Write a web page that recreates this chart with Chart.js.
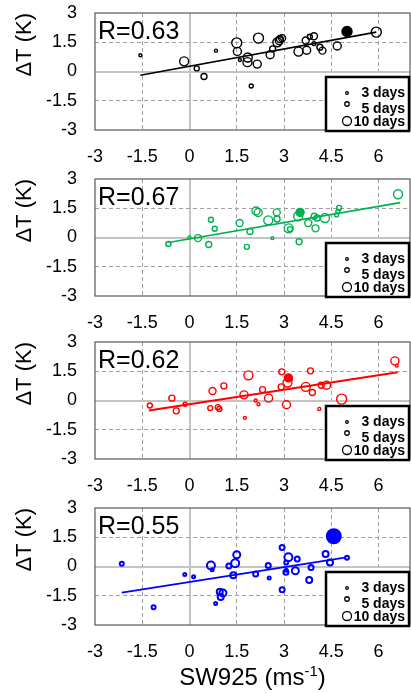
<!DOCTYPE html>
<html>
<head>
<meta charset="utf-8">
<script src="https://cdn.jsdelivr.net/npm/chart.js@4.4.1/dist/chart.umd.min.js"></script>
<style>
  html, body { margin: 0; padding: 0; background: #fff; }
  body { width: 411px; height: 693px; position: relative; overflow: hidden; }
  canvas { position: absolute; left: 0; }
</style>
</head>
<body>
<canvas id="c1" width="411" height="166" style="top:0px"></canvas>
<canvas id="c2" width="411" height="163" style="top:166px"></canvas>
<canvas id="c3" width="411" height="166" style="top:329px"></canvas>
<canvas id="c4" width="411" height="198" style="top:495px"></canvas>
<script>
// ---- ticks / labels ----
const xTicks = [-3, -1.5, 0, 1.5, 3, 4.5, 6];
const yTicks = [-3, -1.5, 0, 1.5, 3];
const legendDays = [3, 5, 10];
const rValues = ['0.63', '0.67', '0.62', '0.55'];

// ---- panel 1 (black) ----
const x1 = [-1.56, -0.17, 0.23, 0.46, 0.84, 1.50, 1.52, 1.60, 1.85, 1.84, 2.15, 1.96, 2.19, 2.56, 2.64, 2.79, 2.85, 2.87, 2.94, 3.46, 3.69, 3.72, 3.82, 3.95, 3.95, 4.14, 4.22, 4.69, 5.00, 5.93];
const y1 = [0.83, 0.52, 0.16, -0.26, 1.07, 1.47, 1.03, 0.59, 0.72, 0.48, 0.38, -0.74, 1.71, 0.86, 1.16, 1.50, 1.58, 1.67, 1.71, 1.02, 1.59, 1.09, 1.78, 1.81, 1.43, 1.24, 1.07, 1.31, 2.05, 2.02];
const d1 = [3, 9, 5, 6, 3, 10, 8, 3, 9, 9, 8, 4, 10, 8, 6, 9, 8, 7, 7, 9, 7, 8, 5, 7, 4, 6, 7, 8, 10, 10];
const fitX1 = [-1.56, 5.93];
const fitY1 = [-0.19, 2.02];
const solid1 = 28;

// ---- panel 2 (green) ----
const x2 = [-0.67, 0.00, 0.27, 0.61, 0.68, 0.80, 1.59, 1.82, 1.92, 2.11, 2.18, 2.50, 2.63, 2.77, 2.78, 3.15, 3.19, 3.45, 3.51, 3.48, 3.77, 3.96, 4.05, 4.00, 4.30, 4.67, 4.71, 4.75, 6.62];
const y2 = [-0.33, 0.00, -0.03, -0.36, 0.91, 0.45, 0.74, -0.48, 0.31, 1.36, 1.28, 0.88, -0.03, 1.29, 0.95, 0.47, 0.43, 1.09, 1.29, -0.22, 0.74, 1.09, 1.00, 0.47, 1.00, 1.16, 1.33, 1.52, 2.22];
const d2 = [5, 3, 7, 6, 5, 5, 7, 5, 6, 8, 8, 9, 3, 7, 6, 9, 5, 9, 8, 6, 7, 6, 6, 7, 9, 4, 4, 5, 9];
const fitX2 = [-0.67, 6.69];
const fitY2 = [-0.26, 1.79];
const solid2 = 18;

// ---- panel 3 (red) ----
const x3 = [-1.26, -0.56, -0.42, -0.14, 0.66, 0.73, 0.90, 0.95, 1.09, 1.73, 1.76, 1.87, 2.10, 2.19, 2.32, 2.51, 2.91, 2.93, 3.08, 3.11, 3.14, 3.20, 3.69, 3.84, 3.90, 4.12, 4.18, 4.35, 4.83, 6.52, 6.58];
const y3 = [-0.26, 0.12, -0.53, -0.19, -0.39, 0.49, -0.34, -0.43, 0.75, 0.29, -0.89, 1.29, 0.00, -0.19, 0.56, 0.12, 0.70, 1.47, -0.22, 0.92, 1.16, 1.11, 0.70, 1.52, 0.41, -0.43, 0.78, 0.78, 0.07, 2.03, 1.79];
const d3 = [5, 6, 6, 4, 5, 7, 5, 5, 6, 8, 3, 9, 3, 3, 6, 8, 6, 6, 8, 9, 8, 4, 9, 6, 6, 3, 6, 8, 10, 8, 3];
const fitX3 = [-1.29, 6.61];
const fitY3 = [-0.51, 1.45];
const solid3 = 20;

// ---- panel 4 (blue) ----
const x4 = [-2.15, -1.14, -0.15, 0.13, 0.68, 0.72, 0.83, 0.96, 1.06, 0.99, 1.25, 1.39, 1.45, 1.50, 2.10, 2.50, 2.53, 2.94, 2.94, 3.06, 3.07, 3.07, 3.14, 3.36, 3.42, 3.80, 3.86, 4.32, 4.46, 4.58, 5.00];
const y4 = [0.14, -2.09, -0.41, -0.53, 0.05, -0.17, -1.90, -1.29, -1.36, -1.57, 0.02, -0.45, 0.17, 0.60, -0.38, 0.05, -0.59, 0.98, -1.19, -0.29, 0.21, -0.19, 0.47, -0.22, 0.38, -0.69, -0.05, 0.64, 0.21, 1.55, 0.45];
const d4 = [4, 4, 3, 3, 8, 3, 3, 6, 7, 6, 5, 6, 8, 7, 5, 5, 3, 5, 5, 5, 4, 3, 8, 7, 5, 6, 5, 6, 6, 14, 4];
const fitX4 = [-2.15, 4.98];
const fitY4 = [-1.34, 0.47];
const solid4 = 29;

const FONT = "'Liberation Sans', Arial, sans-serif";
const radiusFor = (days) => days * 0.5;

// frame, R label, size legend and (last panel) x title
const panelDeco = {
  id: 'panelDeco',
  afterDraw(chart, args, o) {
    const ctx = chart.ctx;
    const a = chart.chartArea;
    ctx.save();

    ctx.strokeStyle = '#595959';
    ctx.lineWidth = 1.2;
    ctx.strokeRect(a.left, a.top, a.right - a.left, a.bottom - a.top);

    ctx.fillStyle = '#000';
    ctx.font = '25px ' + FONT;
    ctx.textAlign = 'left';
    ctx.textBaseline = 'alphabetic';
    ctx.fillText('R=' + o.r, a.left + 3, a.top + 26);

    // legend box
    const bx = a.right - 84, by = a.top + 64, bw = 83, bh = a.bottom - by + 1;
    ctx.fillStyle = '#fff';
    ctx.fillRect(bx, by, bw, bh);
    ctx.strokeStyle = '#000';
    ctx.lineWidth = 2.5;
    ctx.strokeRect(bx, by, bw, bh);

    const markY = [16, 27, 44];
    const textY = [20, 36, 49];
    ctx.font = 'bold 14px ' + FONT;
    ctx.textAlign = 'right';
    legendDays.forEach((d, i) => {
      ctx.beginPath();
      ctx.lineWidth = 1.3;
      ctx.strokeStyle = '#000';
      ctx.arc(bx + 21, by + markY[i], radiusFor(d) * 0.9, 0, Math.PI * 2);
      ctx.stroke();
      ctx.fillStyle = '#000';
      ctx.fillText(d + ' days', bx + bw - 4, by + textY[i]);
    });

    if (o.xTitle) {
      const main = 'SW925 (ms', sup = '-1', close = ')';
      ctx.font = '24px ' + FONT;
      const w1 = ctx.measureText(main).width;
      const w3 = ctx.measureText(close).width;
      ctx.font = '15px ' + FONT;
      const w2 = ctx.measureText(sup).width;
      let x = (a.left + a.right) / 2 - (w1 + w2 + w3) / 2;
      const yb = a.bottom + 60;
      ctx.textAlign = 'left';
      ctx.fillStyle = '#000';
      ctx.font = '24px ' + FONT;
      ctx.fillText(main, x, yb);
      x += w1;
      ctx.font = '15px ' + FONT;
      ctx.fillText(sup, x, yb - 9);
      x += w2;
      ctx.font = '24px ' + FONT;
      ctx.fillText(close, x, yb);
    }
    ctx.restore();
  }
};

function tickVal(ctx) {
  return ctx.tick ? ctx.tick.value : null;
}

function makePanel(id, xs, ys, days, fitX, fitY, solidIdx, color, r, axisH, lastPanel) {
  const pts = xs.map((v, i) => ({ x: v, y: ys[i] }));
  const fit = fitX.map((v, i) => ({ x: v, y: fitY[i] }));
  const thick = color === '#0000ff' ? 2 : 1.4;

  return new Chart(document.getElementById(id), {
    type: 'scatter',
    data: {
      datasets: [{
        type: 'line',
        data: fit,
        borderColor: color,
        borderWidth: color === '#ff0000' ? 2 : 1.6,
        pointRadius: 0,
        fill: false
      }, {
        data: pts,
        pointRadius: (c) => radiusFor(days[c.dataIndex]),
        pointBorderColor: color,
        pointBorderWidth: thick,
        pointBackgroundColor: (c) => c.dataIndex === solidIdx ? color : 'rgba(255,255,255,0)'
      }]
    },
    options: {
      responsive: false,
      animation: false,
      events: [],
      layout: { autoPadding: false, padding: { top: 13, right: 1, left: 0, bottom: 0 } },
      plugins: {
        legend: { display: false },
        tooltip: { enabled: false },
        panelDeco: { r: r, xTitle: lastPanel }
      },
      scales: {
        x: {
          type: 'linear',
          min: -3,
          max: 7,
          afterBuildTicks: (s) => { s.ticks = xTicks.map(v => ({ value: v })); },
          afterFit: (s) => { s.height = axisH; s.paddingLeft = 0; s.paddingRight = 0; },
          ticks: {
            autoSkip: false,
            maxRotation: 0,
            padding: 16,
            color: '#000',
            font: { family: FONT, size: 18 }
          },
          grid: {
            drawTicks: false,
            color: (c) => tickVal(c) === -3 ? 'rgba(0,0,0,0)' : (tickVal(c) === 0 ? '#c4c4c4' : '#a0a0a0'),
            lineWidth: (c) => tickVal(c) === 0 ? 2 : 1
          },
          border: {
            display: false,
            dash: (c) => tickVal(c) === 0 ? [] : [4, 3]
          }
        },
        y: {
          min: -3,
          max: 3,
          afterBuildTicks: (s) => { s.ticks = yTicks.map(v => ({ value: v })); },
          afterFit: (s) => { s.width = 95; s.paddingTop = 0; s.paddingBottom = 0; },
          ticks: {
            padding: 18,
            color: '#000',
            font: { family: FONT, size: 18 }
          },
          title: {
            display: true,
            text: 'ΔT (K)',
            align: 'end',
            color: '#000',
            padding: { top: 12, bottom: 0 },
            font: { family: FONT, size: 22 }
          },
          grid: {
            drawTicks: false,
            color: (c) => (tickVal(c) === 3 || tickVal(c) === -3) ? 'rgba(0,0,0,0)' : (tickVal(c) === 0 ? '#c4c4c4' : '#a0a0a0'),
            lineWidth: (c) => tickVal(c) === 0 ? 2 : 1
          },
          border: {
            display: false,
            dash: (c) => tickVal(c) === 0 ? [] : [4, 3]
          }
        }
      }
    },
    plugins: [panelDeco]
  });
}

makePanel('c1', x1, y1, d1, fitX1, fitY1, solid1, '#000000', rValues[0], 36, false);
makePanel('c2', x2, y2, d2, fitX2, fitY2, solid2, '#00b050', rValues[1], 33, false);
makePanel('c3', x3, y3, d3, fitX3, fitY3, solid3, '#ff0000', rValues[2], 36, false);
makePanel('c4', x4, y4, d4, fitX4, fitY4, solid4, '#0000ff', rValues[3], 68, true);
</script>
</body>
</html>
